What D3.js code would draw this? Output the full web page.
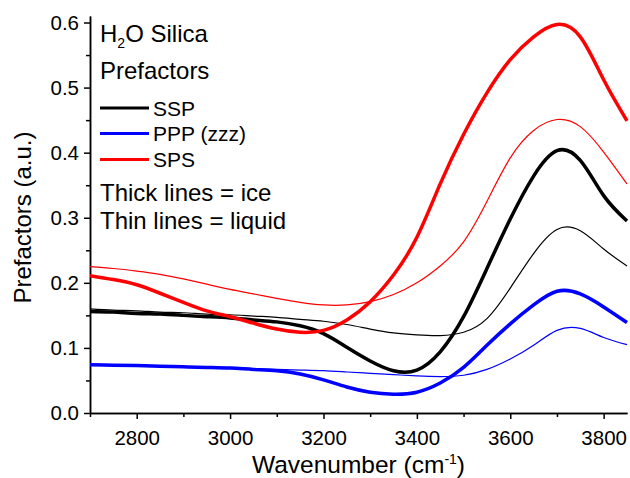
<!DOCTYPE html>
<html>
<head>
<meta charset="utf-8">
<script src="https://cdn.jsdelivr.net/npm/d3@7/dist/d3.min.js"></script>
<style>
  html, body { margin: 0; padding: 0; background: #fff; }
  svg { display: block; }
  text { font-family: "Liberation Sans", Arial, sans-serif; fill: #000; }
</style>
</head>
<body>
<svg id="chart" width="630" height="478"></svg>
<script>
// Wavenumber grid (cm^-1), evenly spaced, shared by all spectra
const wavenumber = [2700, 2750, 2800, 2850, 2900, 2950, 3000, 3050, 3100, 3150, 3200, 3250, 3300, 3350, 3400, 3450, 3500, 3550, 3600, 3650, 3700, 3750, 3800, 3850];

// Ice (thick lines)
const sspIce = [0.156, 0.155, 0.153, 0.152, 0.150, 0.148, 0.146, 0.143, 0.140, 0.134, 0.122, 0.101, 0.080, 0.065, 0.066, 0.094, 0.148, 0.222, 0.298, 0.364, 0.403, 0.388, 0.334, 0.295];
const pppIce = [0.074, 0.0735, 0.073, 0.072, 0.071, 0.070, 0.069, 0.067, 0.065, 0.060, 0.051, 0.040, 0.032, 0.029, 0.032, 0.046, 0.070, 0.104, 0.137, 0.166, 0.187, 0.183, 0.163, 0.139];
const spsIce = [0.211, 0.205, 0.197, 0.184, 0.170, 0.157, 0.148, 0.138, 0.129, 0.124, 0.127, 0.143, 0.171, 0.212, 0.270, 0.352, 0.428, 0.492, 0.543, 0.578, 0.597, 0.578, 0.512, 0.449];

// Liquid water (thin lines)
const sspLiq = [0.160, 0.158, 0.157, 0.155, 0.154, 0.152, 0.151, 0.149, 0.147, 0.144, 0.141, 0.136, 0.129, 0.123, 0.120, 0.119, 0.124, 0.145, 0.192, 0.245, 0.282, 0.280, 0.252, 0.226];
const pppLiq = [0.075, 0.074, 0.073, 0.072, 0.071, 0.070, 0.069, 0.068, 0.067, 0.066, 0.065, 0.063, 0.061, 0.059, 0.057, 0.056, 0.058, 0.067, 0.083, 0.104, 0.127, 0.130, 0.116, 0.105];
const spsLiq = [0.225, 0.222, 0.218, 0.213, 0.206, 0.198, 0.190, 0.183, 0.176, 0.170, 0.166, 0.166, 0.171, 0.182, 0.200, 0.226, 0.263, 0.325, 0.392, 0.434, 0.451, 0.440, 0.401, 0.352];

// Axis ticks
const xTicks = [2800, 3000, 3200, 3400, 3600, 3800];
const xMinorTicks = [2700, 2900, 3100, 3300, 3500, 3700];
const yTicks = [0.0, 0.1, 0.2, 0.3, 0.4, 0.5, 0.6];
const yMinorTicks = [0.05, 0.15, 0.25, 0.35, 0.45, 0.55];

// Legend entries
const legendLabels = ["SSP", "PPP (zzz)", "SPS"];
const legendColors = ["#000000", "#0000ff", "#ff0000"];

const svg = d3.select("#chart");
const plotLeft = 90, plotRight = 627, plotTop = 16, plotBottom = 413;

const x = d3.scaleLinear().domain([2700, 3850]).range([plotLeft, plotRight]);
const y = d3.scaleLinear().domain([0, 0.61]).range([plotBottom, plotTop]);

svg.append("defs").append("clipPath").attr("id", "plotClip")
  .append("rect").attr("x", plotLeft).attr("y", 0).attr("width", plotRight - plotLeft + 3).attr("height", plotBottom);

// Axes
const xAxis = d3.axisBottom(x).tickValues(xTicks).tickFormat(d3.format("d")).tickSize(6).tickPadding(11).tickSizeOuter(0);
const xMinor = d3.axisBottom(x).tickValues(xMinorTicks).tickFormat("").tickSize(4).tickSizeOuter(0);
const yAxis = d3.axisLeft(y).tickValues(yTicks).tickFormat(d3.format(".1f")).tickSize(6).tickPadding(5).tickSizeOuter(0);
const yMinor = d3.axisLeft(y).tickValues(yMinorTicks).tickFormat("").tickSize(4).tickSizeOuter(0);

function styleAxis(g) {
  g.select(".domain").attr("stroke", "#000").attr("stroke-width", 1.5);
  g.selectAll(".tick line").attr("stroke", "#000").attr("stroke-width", 1.5);
  g.selectAll(".tick text").style("font-family", '"Liberation Sans", Arial, sans-serif').style("font-size", "20.5px").attr("fill", "#000");
}

svg.append("g").attr("transform", `translate(0,${plotBottom})`).call(xMinor).call(styleAxis);
svg.append("g").attr("transform", `translate(0,${plotBottom})`).call(xAxis).call(styleAxis);
svg.append("g").attr("transform", `translate(${plotLeft},0)`).call(yMinor).call(styleAxis);
svg.append("g").attr("transform", `translate(${plotLeft},0)`).call(yAxis).call(styleAxis);

// Axis titles
const xt = svg.append("text").attr("x", (plotLeft + plotRight) / 2).attr("y", 473)
  .attr("text-anchor", "middle").style("font-size", "24.5px");
xt.append("tspan").text("Wavenumber (cm");
xt.append("tspan").attr("dy", -9).style("font-size", "14px").text("-1");
xt.append("tspan").attr("dy", 9).text(")");

svg.append("text")
  .attr("transform", `translate(31,${(plotTop + plotBottom) / 2 + 3}) rotate(-90)`)
  .attr("text-anchor", "middle").style("font-size", "24px")
  .text("Prefactors (a.u.)");

// Spectra: smooth natural-spline interpolation through the sampled values
const line = d3.line()
  .x((d, i) => x(wavenumber[i]))
  .y(d => y(d))
  .curve(d3.curveNatural);

const plot = svg.append("g").attr("clip-path", "url(#plotClip)");
const series = [
  { values: sspLiq, color: "#000000", width: 1.2 },
  { values: pppLiq, color: "#0000ff", width: 1.2 },
  { values: spsLiq, color: "#ff0000", width: 1.2 },
  { values: sspIce, color: "#000000", width: 3.5 },
  { values: pppIce, color: "#0000ff", width: 3.5 },
  { values: spsIce, color: "#ff0000", width: 3.5 }
];
plot.selectAll("path.spectrum").data(series).enter().append("path")
  .attr("class", "spectrum")
  .attr("d", d => line(d.values))
  .attr("fill", "none")
  .attr("stroke", d => d.color)
  .attr("stroke-width", d => d.width)
  .attr("stroke-linejoin", "round");

// Legend block
const h2o = svg.append("text").attr("x", 100).attr("y", 42).style("font-size", "24px");
h2o.append("tspan").text("H");
h2o.append("tspan").attr("dy", 6).style("font-size", "14px").text("2");
h2o.append("tspan").attr("dy", -6).text("O Silica");

svg.append("text").attr("x", 100).attr("y", 79).style("font-size", "24px").text("Prefactors");

const legendY = [108, 133.5, 159.5];
const lg = svg.append("g");
legendLabels.forEach((lab, i) => {
  lg.append("line").attr("x1", 100).attr("x2", 149)
    .attr("y1", legendY[i]).attr("y2", legendY[i])
    .attr("stroke", legendColors[i]).attr("stroke-width", 3);
  lg.append("text").attr("x", 153).attr("y", legendY[i] + 7.5)
    .style("font-size", "21px").text(lab);
});

svg.append("text").attr("x", 100).attr("y", 201).style("font-size", "24px").text("Thick lines = ice");
svg.append("text").attr("x", 100).attr("y", 229).style("font-size", "24px").text("Thin lines = liquid");
</script>
</body>
</html>
